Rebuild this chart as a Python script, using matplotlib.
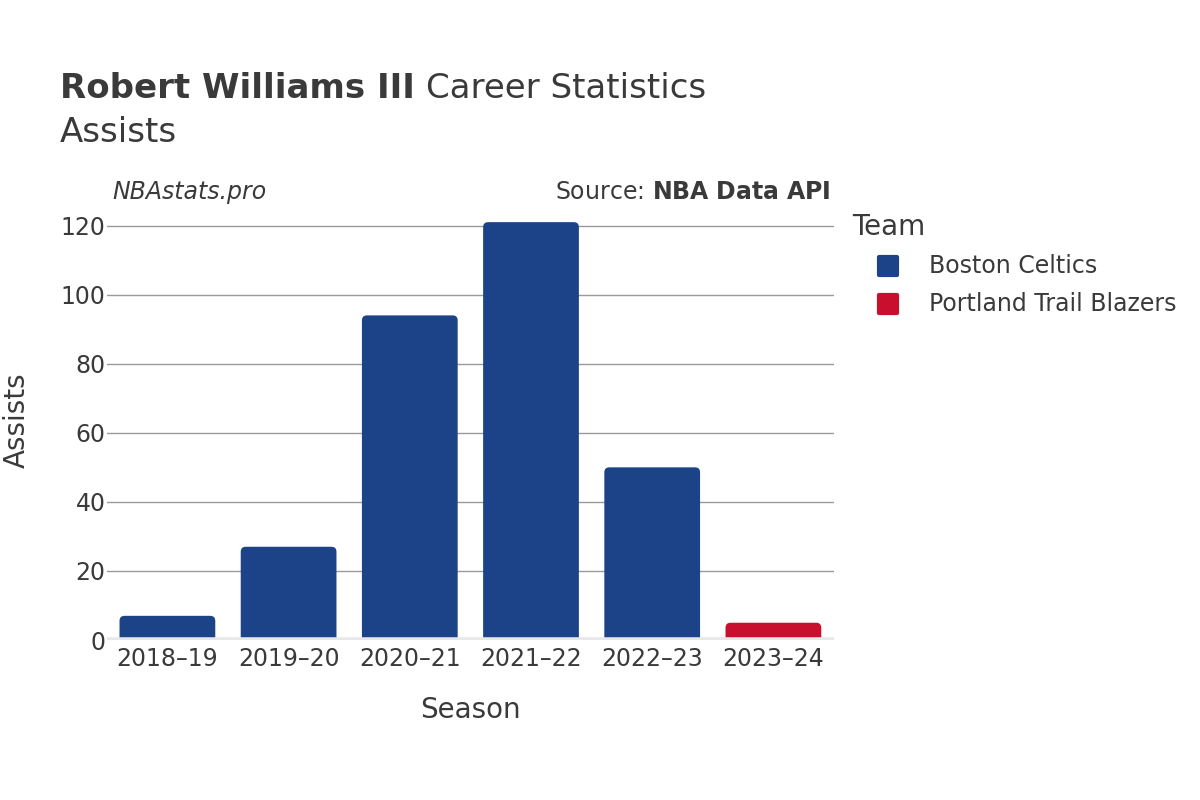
import matplotlib
matplotlib.use("Agg")
import matplotlib.pyplot as plt
from matplotlib.patches import FancyBboxPatch
from matplotlib.lines import Line2D
from matplotlib.markers import MarkerStyle

seasons = ["2018\u201319", "2019\u201320", "2020\u201321", "2021\u201322", "2022\u201323", "2023\u201324"]
assists = [7, 27, 94, 121, 50, 5]
teams = ["Boston Celtics", "Boston Celtics", "Boston Celtics", "Boston Celtics",
         "Boston Celtics", "Portland Trail Blazers"]
team_names = ["Boston Celtics", "Portland Trail Blazers"]
team_colors = {"Boston Celtics": "#1c4387", "Portland Trail Blazers": "#c8102e"}

TXT = "#3a3a3a"
plt.rcParams["font.family"] = ["DejaVu Sans"]

fig = plt.figure(figsize=(12, 8), dpi=100)
ax = fig.add_axes([0.089, 0.2, 0.606, 0.55])

ymax = max(assists) * 1.053
ax.set_xlim(-0.5, len(seasons) - 0.5)
ax.set_ylim(0, ymax)

bars = ax.bar(range(len(seasons)), assists, width=0.79,
              color=[team_colors[t] for t in teams])
# swap plain bars for ones with rounded tops
px_x = 0.606 * 1200 / len(seasons)          # pixels per x unit
px_y = 0.55 * 800 / ymax                    # pixels per y unit
r_x = 5 / px_x
r_y = 5 / px_y
for b in bars:
    b.set_visible(False)
    p = FancyBboxPatch((b.get_x(), -r_y), b.get_width(), b.get_height() + r_y,
                       boxstyle=f"round,pad=0,rounding_size={r_x}",
                       mutation_aspect=r_y / r_x,
                       fc=b.get_facecolor(), ec="none", zorder=2)
    ax.add_patch(p)

ax.set_yticks([0, 20, 40, 60, 80, 100, 120])
ax.grid(axis="y", color="#9a9a9a", lw=1, zorder=0)
ax.set_axisbelow(True)
ax.axhline(0, color="#e8e8ea", lw=4, zorder=3)
for s in ax.spines.values():
    s.set_visible(False)
ax.set_xticks(range(len(seasons)))
ax.set_xticklabels(seasons)
ax.tick_params(length=0, labelsize=17, colors=TXT, pad=5)
ax.tick_params(axis="y", pad=1)
ax.set_xlabel("Season", fontsize=20, color=TXT, labelpad=18)
fig.text(17 / 1200, 1 - 420 / 800, "Assists", fontsize=20, color=TXT,
         rotation=90, ha="center", va="center")

t1 = fig.text(0.05, 0.89, "Robert Williams III", fontsize=24.5, fontweight="bold",
              color=TXT, va="center")
fig.canvas.draw()
bb = t1.get_window_extent()
fig.text(bb.x1 / 1200 + 0.009, 0.89, "Career Statistics", fontsize=24.5, color=TXT,
         va="center")
fig.text(0.05, 0.835, "Assists", fontsize=24.5, color=TXT, va="center")
fig.text(0.094, 0.76, "NBAstats.pro", fontsize=17, style="italic", color=TXT, va="center")
fig.text(0.692, 0.76, "Source: $\\bf{NBA\\ Data\\ API}$", fontsize=17, color=TXT,
         va="center", ha="right")

# legend drawn by hand
fig.text(852 / 1200, 1 - 227 / 800, "Team", fontsize=20, color=TXT, va="center")
for i, t in enumerate(team_names):
    y = 1 - (266 + 38 * i) / 800
    fig.add_artist(Line2D([888 / 1200], [y], transform=fig.transFigure, ls="none",
                          marker=MarkerStyle("s", joinstyle="round"),
                          markersize=13, mfc=team_colors[t], mec=team_colors[t], mew=3))
    fig.text(929 / 1200, y, t, fontsize=17, color=TXT, va="center")

fig.savefig("out.png", dpi=100)
